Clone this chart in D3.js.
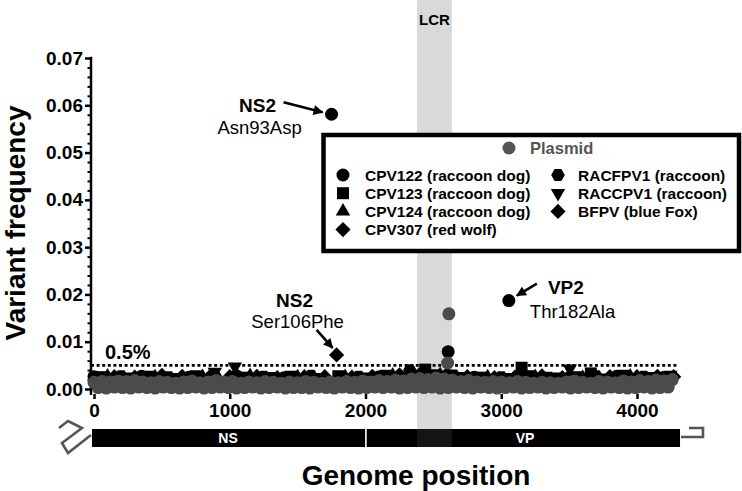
<!DOCTYPE html>
<html><head><meta charset="utf-8">
<script src="https://cdn.jsdelivr.net/npm/d3@7"></script>
<style>
body{margin:0;background:#fff}
svg{display:block}
text{font-family:"Liberation Sans",Arial,Helvetica,sans-serif}
</style>
</head><body>
<svg id="c" width="742" height="491"></svg>
<script>
// ---------------- DATA ----------------
const yTicks = [0, 0.01, 0.02, 0.03, 0.04, 0.05, 0.06, 0.07];
const yMinorTicks = [0.002,0.004,0.006,0.008,0.012,0.014,0.016,0.018,0.022,0.024,0.026,0.028,0.032,0.034,0.036,0.038,0.042,0.044,0.046,0.048,0.052,0.054,0.056,0.058,0.062,0.064,0.066,0.068];
const xTicks = [0, 1000, 2000, 3000, 4000];
const threshold = 0.005;
const lcrRange = [2380, 2636];
const genomeSegments = [{name:"NS", start:-15, end:2003}, {name:"VP", start:2003, end:4317}];

const plasmidPos = [
0,30,60,90,120,150,180,210,240,270,
300,330,360,390,420,450,480,510,540,570,
600,630,660,690,720,750,780,810,840,870,
900,930,960,990,1020,1050,1080,1110,1140,1170,
1200,1230,1260,1290,1320,1350,1380,1410,1440,1470,
1500,1530,1560,1590,1620,1650,1680,1710,1740,1770,
1800,1830,1860,1890,1920,1950,1980,2010,2040,2070,
2100,2130,2160,2190,2220,2250,2280,2310,2340,2370,
2400,2430,2460,2490,2520,2550,2580,2610,2640,2670,
2700,2730,2760,2790,2820,2850,2880,2910,2940,2970,
3000,3030,3060,3090,3120,3150,3180,3210,3240,3270,
3300,3330,3360,3390,3420,3450,3480,3510,3540,3570,
3600,3630,3660,3690,3720,3750,3780,3810,3840,3870,
3900,3930,3960,3990,4020,4050,4080,4110,4140,4170,
4200,4230,4260,
2605,2614];
const plasmidFreq = [
.0014,.0003,.0016,.0002,.0015,.0004,.0017,.0003,.0016,.0002,
.0018,.0004,.0015,.0003,.0013,.0002,.0016,.0004,.0014,.0003,
.0012,.0002,.0015,.0003,.0017,.0004,.0013,.0002,.0015,.0003,
.0018,.0004,.0014,.0003,.0016,.0002,.0012,.0003,.0015,.0004,
.0013,.0002,.0016,.0003,.0014,.0004,.0012,.0002,.0015,.0003,
.0013,.0003,.0016,.0002,.0014,.0004,.0012,.0003,.0015,.0002,
.0013,.0004,.0016,.0003,.0014,.0002,.0017,.0003,.0015,.0004,
.0018,.0003,.0016,.0004,.0019,.0002,.0017,.0003,.0021,.0004,
.0022,.0003,.0020,.0004,.0023,.0002,.0021,.0003,.0019,.0004,
.0016,.0003,.0018,.0002,.0015,.0004,.0014,.0003,.0016,.0002,
.0015,.0003,.0013,.0004,.0016,.0002,.0014,.0003,.0012,.0004,
.0014,.0002,.0013,.0003,.0012,.0004,.0015,.0002,.0017,.0003,
.0014,.0004,.0012,.0003,.0016,.0002,.0015,.0004,.0013,.0003,
.0017,.0002,.0015,.0003,.0018,.0004,.0016,.0002,.0019,.0003,
.0017,.0004,.0020,
.0055,.0159];

const cpv122Pos  = [0,350,700,1050,1400,1750,2100,2450,2609,2800,3056,3150,3500,3850,4200];
const cpv122Freq = [.0026,.0027,.0025,.0028,.0024,.0581,.0026,.0029,.0079,.0025,.0187,.0026,.0024,.0027,.0025];
const cpv123Pos  = [50,400,750,1100,1450,1800,2150,2440,2500,2850,3150,3200,3550,3660,3900,4250];
const cpv123Freq = [.0025,.0026,.0027,.0024,.0026,.0027,.0028,.0041,.0029,.0024,.0045,.0027,.0025,.0033,.0028,.0026];
const cpv124Pos  = [100,450,800,1150,1500,1850,2200,2550,2900,3250,3600,3950];
const cpv124Freq = [.0027,.0025,.0026,.0028,.0025,.0026,.0029,.0030,.0025,.0026,.0024,.0027];
const cpv307Pos  = [150,500,850,1200,1550,1900,2250,2600,2950,3300,3650,4000];
const cpv307Freq = [.0026,.0029,.0025,.0027,.0026,.0025,.0030,.0031,.0024,.0028,.0025,.0026];
const racfpv1Pos  = [200,550,900,1250,1600,1950,2327,2650,3000,3350,3700,4050];
const racfpv1Freq = [.0027,.0025,.0024,.0026,.0028,.0026,.0040,.0029,.0025,.0024,.0027,.0026];
const raccpv1Pos  = [250,600,890,1038,1300,1650,2000,2350,2700,3050,3400,3505,3750,4100];
const raccpv1Freq = [.0026,.0025,.0036,.0047,.0027,.0025,.0026,.0028,.0027,.0025,.0026,.0043,.0024,.0027];
const bfpvPos  = [300,650,1000,1350,1700,1787,2050,2400,2750,3100,3450,3800,4150,4270];
const bfpvFreq = [.0025,.0027,.0026,.0024,.0026,.0072,.0027,.0031,.0026,.0025,.0024,.0026,.0027,.0026];

const annotations = [
  {gene:"NS2", change:"Asn93Asp"},
  {gene:"NS2", change:"Ser106Phe"},
  {gene:"VP2", change:"Thr182Ala"}
];

// ---------------- SYMBOLS ----------------
const symHex = {draw(ctx, size){
  const r = Math.sqrt(2*size/(3*Math.sqrt(3)));
  for(let i=0;i<6;i++){const a=i*Math.PI/3; const px=r*Math.cos(a), py=r*Math.sin(a); i?ctx.lineTo(px,py):ctx.moveTo(px,py);}
  ctx.closePath();}};
const symDiamond = {draw(ctx,size){const h=Math.sqrt(size/2); ctx.moveTo(0,-h);ctx.lineTo(h,0);ctx.lineTo(0,h);ctx.lineTo(-h,0);ctx.closePath();}};
const symTriUp = {draw(ctx,size){const s=Math.sqrt(size*4/Math.sqrt(3)); const hh=s*Math.sqrt(3)/2; ctx.moveTo(0,-hh*2/3);ctx.lineTo(s/2,hh/3);ctx.lineTo(-s/2,hh/3);ctx.closePath();}};
const symTriDown = {draw(ctx,size){const s=Math.sqrt(size*4/Math.sqrt(3)); const hh=s*Math.sqrt(3)/2; ctx.moveTo(0,hh*2/3);ctx.lineTo(s/2,-hh/3);ctx.lineTo(-s/2,-hh/3);ctx.closePath();}};

const series = [
  {name:"CPV122 (raccoon dog)", pos:cpv122Pos, freq:cpv122Freq, type:d3.symbolCircle, size:133, color:"#000"},
  {name:"CPV123 (raccoon dog)", pos:cpv123Pos, freq:cpv123Freq, type:d3.symbolSquare, size:144, color:"#000"},
  {name:"CPV124 (raccoon dog)", pos:cpv124Pos, freq:cpv124Freq, type:symTriUp, size:90, color:"#000"},
  {name:"CPV307 (red wolf)", pos:cpv307Pos, freq:cpv307Freq, type:symDiamond, size:115, color:"#000"},
  {name:"RACFPV1 (raccoon)", pos:racfpv1Pos, freq:racfpv1Freq, type:symHex, size:120, color:"#000"},
  {name:"RACCPV1 (raccoon)", pos:raccpv1Pos, freq:raccpv1Freq, type:symTriDown, size:90, color:"#000"},
  {name:"BFPV (blue Fox)", pos:bfpvPos, freq:bfpvFreq, type:symDiamond, size:115, color:"#000"}
];
const plasmid = {name:"Plasmid", pos:plasmidPos, freq:plasmidFreq, type:d3.symbolCircle, size:133, color:"#4b4b4b"};

// ---------------- CHART ----------------
const svg = d3.select("#c");
const x = d3.scaleLinear().domain([0,4000]).range([94,637]);
const y = d3.scaleLinear().domain([0,0.07]).range([389,58]);

// LCR band (plot part)
svg.append("rect").attr("x", x(lcrRange[0])).attr("width", x(lcrRange[1])-x(lcrRange[0]))
  .attr("y", 0).attr("height", 429).attr("fill", "#d9d9d9");
svg.append("text").attr("x", (x(lcrRange[0])+x(lcrRange[1]))/2).attr("y", 20).attr("dy","0.35em")
  .attr("text-anchor","middle").attr("font-size",15).attr("font-weight","bold").text("LCR");

// Y axis
const gy = svg.append("g").attr("transform","translate(91,0)");
gy.call(d3.axisLeft(y).tickValues(yTicks).tickFormat(d3.format(".2f")).tickSize(6).tickPadding(2));
gy.select(".domain").remove();
gy.selectAll(".tick line").attr("stroke-width",2.5);
gy.selectAll(".tick text").attr("font-size",19).attr("font-weight","bold").attr("fill","#000")
  .style("font-family",'"Liberation Sans",Arial,sans-serif');
const gym = svg.append("g").attr("transform","translate(91,0)");
gym.call(d3.axisLeft(y).tickValues(yMinorTicks).tickFormat("").tickSize(3.5));
gym.select(".domain").remove();
gym.selectAll(".tick line").attr("stroke-width",2);
svg.append("line").attr("x1",91).attr("x2",91).attr("y1",y(0.07)-1.2).attr("y2",395)
  .attr("stroke","#000").attr("stroke-width",2.5);

// X axis
const gx = svg.append("g").attr("transform","translate(0,394)");
gx.call(d3.axisBottom(x).tickValues(xTicks).tickFormat(d3.format("d")).tickSize(5).tickPadding(5));
gx.select(".domain").remove();
gx.selectAll(".tick line").attr("stroke-width",2.5);
gx.selectAll(".tick text").attr("font-size",19).attr("font-weight","bold").attr("fill","#000")
  .style("font-family",'"Liberation Sans",Arial,sans-serif');

// threshold line
svg.append("line").attr("x1",91).attr("x2",x(4300)).attr("y1",y(threshold)).attr("y2",y(threshold))
  .attr("stroke","#000").attr("stroke-width",2.6).attr("stroke-dasharray","3,2.6");
svg.append("text").attr("x",105).attr("y",y(threshold)-13).attr("dy","0.35em")
  .attr("font-size",20).attr("font-weight","bold").text("0.5%");

// data points
function drawSeries(s){
  const pts = s.pos.map((p,i)=>({p, f:s.freq[i]}));
  svg.append("g").selectAll("path").data(pts).join("path")
    .attr("transform", d=>`translate(${x(d.p)},${y(d.f)})`)
    .attr("d", d3.symbol().type(s.type).size(s.size))
    .attr("fill", s.color);
}
series.forEach(drawSeries);
drawSeries(plasmid);

// Genome bar
svg.selectAll(".seg").data(genomeSegments).join("rect")
  .attr("x", d=>x(d.start)).attr("width", d=>x(d.end)-x(d.start))
  .attr("y",429).attr("height",18).attr("fill","#000");
svg.append("line").attr("x1",x(genomeSegments[1].start)).attr("x2",x(genomeSegments[1].start))
  .attr("y1",429).attr("y2",447).attr("stroke","#fff").attr("stroke-width",1.6);
svg.selectAll(".segt").data(genomeSegments).join("text")
  .attr("x", d=> d.name==="NS" ? 228 : 525).attr("y",438).attr("dy","0.36em")
  .attr("text-anchor","middle").attr("fill","#fff").attr("font-size",14).attr("font-weight","bold")
  .text(d=>d.name);
svg.append("rect").attr("x", x(lcrRange[0])).attr("width", x(lcrRange[1])-x(lcrRange[0]))
  .attr("y", 429).attr("height", 18).attr("fill", "rgb(104,104,104)").attr("fill-opacity",0.2);

// hairpin ends
svg.append("path").attr("d","M59,428 L68,421 L82,428 L62,443 L68,453 L91,435")
  .attr("fill","none").attr("stroke","#555").attr("stroke-width",2.6).attr("stroke-linejoin","miter");
svg.append("path").attr("d","M681,437 L703,437 L703,428 L689,428")
  .attr("fill","none").attr("stroke","#555").attr("stroke-width",2.6);

// Axis titles
svg.append("text").attr("transform","translate(25,223) rotate(-90)").attr("text-anchor","middle")
  .attr("font-size",28).attr("font-weight","bold").text("Variant frequency");
svg.append("text").attr("x",416).attr("y",485).attr("text-anchor","middle")
  .attr("font-size",28).attr("font-weight","bold").text("Genome position");

// annotations with arrows
const defs = svg.append("defs");
defs.append("marker").attr("id","ah").attr("markerUnits","userSpaceOnUse")
  .attr("viewBox","0 0 10 10").attr("refX",9).attr("refY",5)
  .attr("markerWidth",11).attr("markerHeight",10).attr("orient","auto")
  .append("path").attr("d","M0,0 L10,5 L0,10 Z").attr("fill","#000");
function arrow(x1,y1,x2,y2){
  svg.append("line").attr("x1",x1).attr("y1",y1).attr("x2",x2).attr("y2",y2)
    .attr("stroke","#000").attr("stroke-width",2.6).attr("marker-end","url(#ah)");
}
// NS2 Asn93Asp
const a1 = {px:x(cpv122Pos[5]), py:y(cpv122Freq[5])};
svg.append("text").attr("x",a1.px-74).attr("y",a1.py-9).attr("dy","0.35em").attr("text-anchor","middle")
  .attr("font-size",19).attr("font-weight","bold").text(annotations[0].gene);
svg.append("text").attr("x",a1.px-72).attr("y",a1.py+13).attr("dy","0.35em").attr("text-anchor","middle")
  .attr("font-size",18.5).text(annotations[0].change);
arrow(a1.px-48, a1.py-12, a1.px-9, a1.py-2);
// NS2 Ser106Phe
const a2 = {px:x(bfpvPos[5]), py:y(bfpvFreq[5])};
svg.append("text").attr("x",a2.px-42).attr("y",a2.py-55).attr("dy","0.35em").attr("text-anchor","middle")
  .attr("font-size",19).attr("font-weight","bold").text(annotations[1].gene);
svg.append("text").attr("x",a2.px-39).attr("y",a2.py-33).attr("dy","0.35em").attr("text-anchor","middle")
  .attr("font-size",18.5).text(annotations[1].change);
arrow(a2.px-20, a2.py-25, a2.px-4, a2.py-7);
// VP2 Thr182Ala
const a3 = {px:x(cpv122Pos[10]), py:y(cpv122Freq[10])};
svg.append("text").attr("x",a3.px+57).attr("y",a3.py-13).attr("dy","0.35em").attr("text-anchor","middle")
  .attr("font-size",19).attr("font-weight","bold").text(annotations[2].gene);
svg.append("text").attr("x",a3.px+21).attr("y",a3.py+11).attr("dy","0.35em").attr("text-anchor","start")
  .attr("font-size",18.5).text(annotations[2].change);
arrow(a3.px+28, a3.py-17, a3.px+8, a3.py-5);

// Legend
const lg = svg.append("g");
lg.append("rect").attr("x",323.5).attr("y",135).attr("width",415.5).attr("height",116)
  .attr("fill","#fff").attr("stroke","#000").attr("stroke-width",4.5);
lg.append("path").attr("transform","translate(509,148)").attr("d", d3.symbol().type(plasmid.type).size(plasmid.size)).attr("fill","#555");
lg.append("text").attr("x",530).attr("y",148).attr("dy","0.36em").attr("font-size",16.5).attr("font-weight","bold")
  .attr("fill","#555").text(plasmid.name);
series.forEach((s,i)=>{
  const col = i<4 ? 0 : 1;
  const row = i<4 ? i : i-4;
  const sx = col ? 558 : 343, tx = col ? 578 : 365;
  const sy = 175 + row*18.2;
  lg.append("path").attr("transform",`translate(${sx},${sy})`).attr("d", d3.symbol().type(s.type).size(s.size)).attr("fill",s.color);
  lg.append("text").attr("x",tx).attr("y",sy).attr("dy","0.36em").attr("font-size",15.5).attr("font-weight","bold").text(s.name);
});
</script>
</body></html>
